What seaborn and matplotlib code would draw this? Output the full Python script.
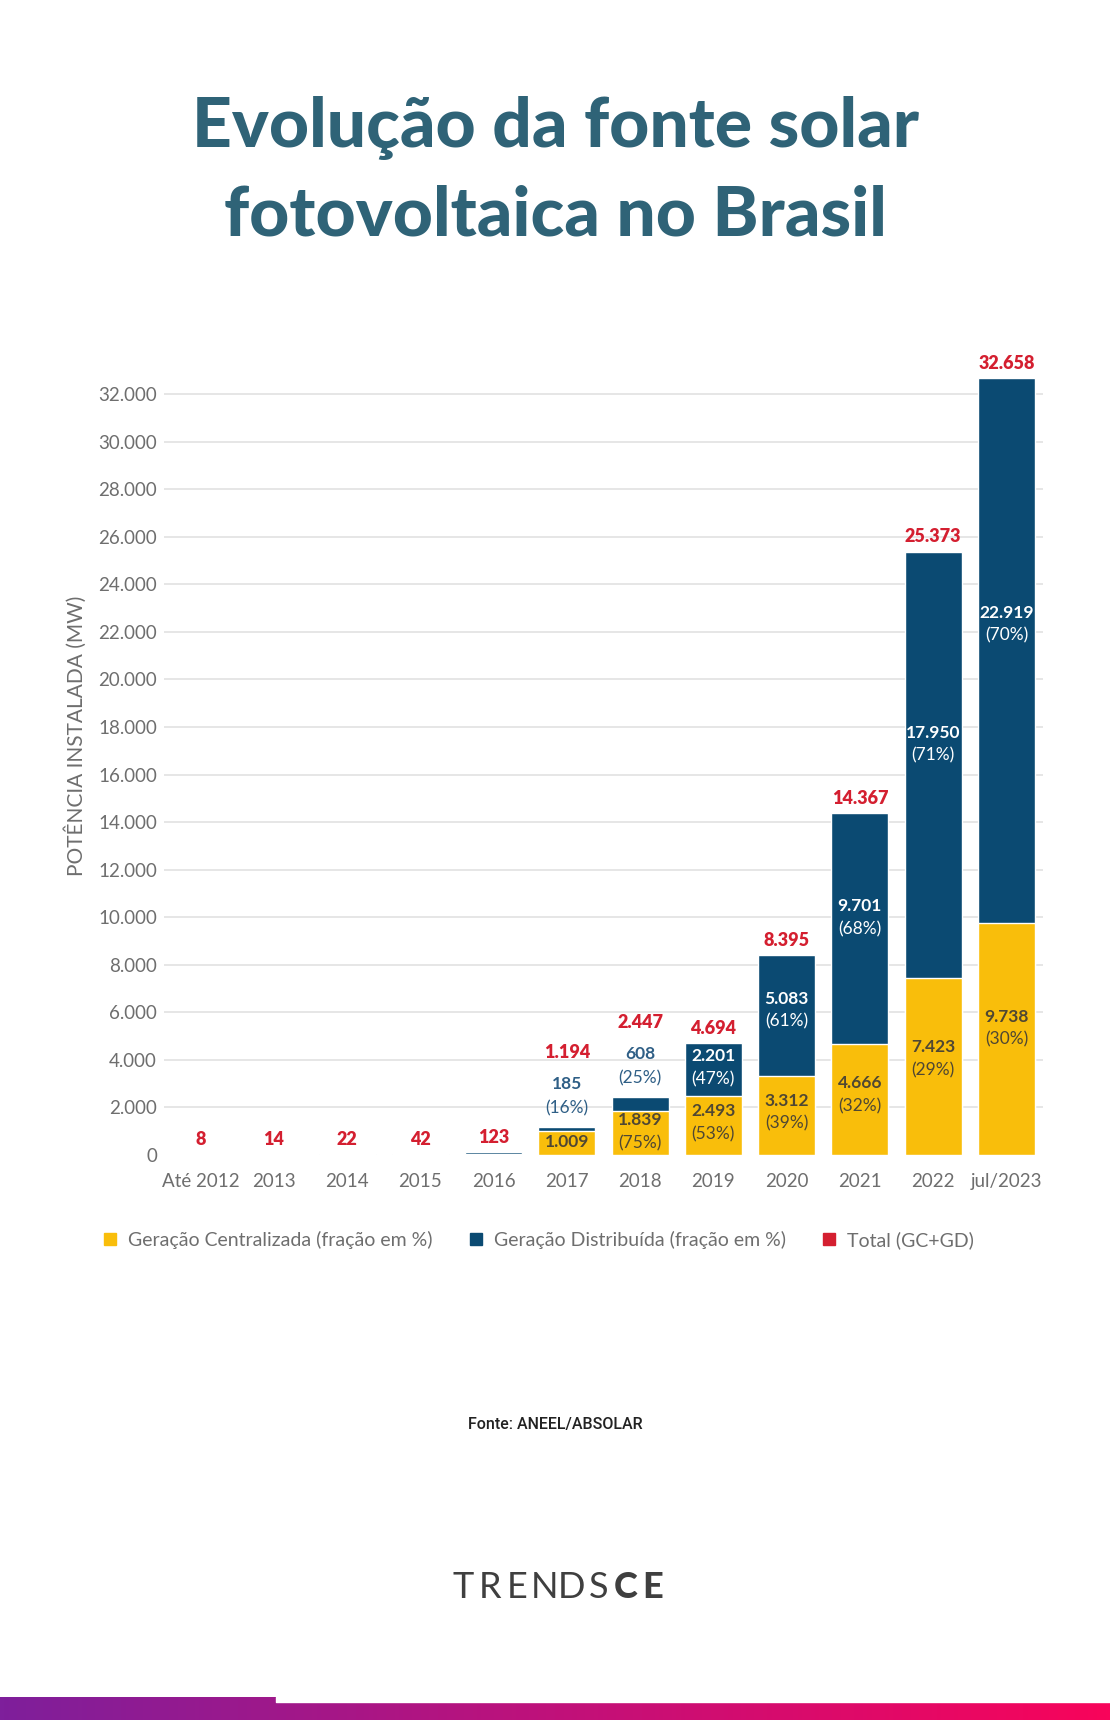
import numpy as np
import matplotlib
matplotlib.use("Agg")
import matplotlib.pyplot as plt
import seaborn as sns
from matplotlib.lines import Line2D
from matplotlib.colors import LinearSegmentedColormap

# data (MW)
years = ["Até 2012", "2013", "2014", "2015", "2016", "2017", "2018",
         "2019", "2020", "2021", "2022", "jul/2023"]
total = [8, 14, 22, 42, 123, 1194, 2447, 4694, 8395, 14367, 25373, 32658]
gc = [6, 9, 15, 21, 24, 1009, 1839, 2493, 3312, 4666, 7423, 9738]
gd = [2, 5, 7, 21, 99, 185, 608, 2201, 5083, 9701, 17950, 22919]
gc_pct = [None, None, None, None, None, None, 75, 53, 39, 32, 29, 30]
gd_pct = [None, None, None, None, None, 16, 25, 47, 61, 68, 71, 70]
gc_label = [False, False, False, False, False, True, True, True, True, True, True, True]
gd_outside = [False, False, False, False, False, True, True, False, False, False, False, False]
yticks = list(range(0, 32001, 2000))

YELLOW = "#F9BE0B"
BLUE = "#0B4A72"
RED = "#D41F30"
GRAY = "#6E6E6E"
TITLE = "#2F6377"

sns.set_theme(style="white")
plt.rcParams["font.family"] = ["Lato", "DejaVu Sans"]

W, H = 1110, 1720
fig = plt.figure(figsize=(W / 100, H / 100), dpi=100)
fig.patch.set_facecolor("white")


def fy(px):
    return 1 - px / H


def fmt(v):
    return f"{v:,}".replace(",", ".")


ax = fig.add_axes([164 / W, fy(1155), (1043 - 164) / W, (1155 - 346.5) / H])

sns.barplot(x=years, y=total, color=BLUE, saturation=1, width=0.78, ax=ax)
sns.barplot(x=years, y=gc, color=YELLOW, saturation=1, width=0.78, ax=ax)

ax.set_xlim(-0.5, len(years) - 0.5)
ax.set_ylim(0, 34000)
ax.set_yticks(yticks)
ax.set_yticklabels([fmt(t) for t in yticks])
ax.tick_params(axis="y", length=0, pad=5, labelsize=13.5, labelcolor=GRAY)
ax.tick_params(axis="x", length=0, pad=13, labelsize=13.5, labelcolor=GRAY)
ax.grid(axis="y", color="#E4E4E4", linewidth=1.3)
ax.set_axisbelow(True)
ax.yaxis.get_gridlines()[0].set_visible(False)
for s in ax.spines.values():
    s.set_visible(False)
ax.set_xlabel("")
ax.set_ylabel("POTÊNCIA INSTALADA (MW)", fontsize=15, color=GRAY)
ax.yaxis.set_label_coords(-0.088, 0.519)

pt = 0.72  # points per pixel at dpi 100
for i in range(len(years)):
    top = total[i]
    if gd_outside[i]:
        ax.annotate(f"({gd_pct[i]}%)", (i, top), xytext=(0, 18 * pt), textcoords="offset points",
                    ha="center", va="center", fontsize=12.5, color="#2F5F86")
        ax.annotate(fmt(gd[i]), (i, top), xytext=(0, 43 * pt), textcoords="offset points",
                    ha="center", va="center", fontsize=12.5, fontweight="bold", color="#2F5F86")
        red_off = 74
    else:
        red_off = 15
    ax.annotate(fmt(top), (i, top), xytext=(0, red_off * pt), textcoords="offset points",
                ha="center", va="center", fontsize=13, fontweight="heavy", color=RED)

    if gd_pct[i] is not None and not gd_outside[i]:
        mid = gc[i] + gd[i] * 0.55
        ax.annotate(fmt(gd[i]), (i, mid), xytext=(0, 11 * pt), textcoords="offset points",
                    ha="center", va="center", fontsize=12.5, fontweight="bold", color="white")
        ax.annotate(f"({gd_pct[i]}%)", (i, mid), xytext=(0, -12 * pt), textcoords="offset points",
                    ha="center", va="center", fontsize=12.5, color="white")

    if gc_label[i]:
        mid = gc[i] * 0.55
        if gc_pct[i] is None:
            ax.annotate(fmt(gc[i]), (i, mid), ha="center", va="center",
                        fontsize=12.5, fontweight="bold", color="#4F4733")
        else:
            ax.annotate(fmt(gc[i]), (i, mid), xytext=(0, 11 * pt), textcoords="offset points",
                        ha="center", va="center", fontsize=12.5, fontweight="bold", color="#4F4733")
            ax.annotate(f"({gc_pct[i]}%)", (i, mid), xytext=(0, -12 * pt), textcoords="offset points",
                        ha="center", va="center", fontsize=12.5, color="#4F4733")

handles = [
    Line2D([], [], marker="s", linestyle="", markersize=8, color=YELLOW),
    Line2D([], [], marker="s", linestyle="", markersize=8, color=BLUE),
    Line2D([], [], marker="s", linestyle="", markersize=8, color=RED),
]
labels = ["Geração Centralizada (fração em %)", "Geração Distribuída (fração em %)", "Total (GC+GD)"]
fig.legend(handles, labels, loc="center left", bbox_to_anchor=(101 / W, fy(1240)), ncol=3,
           frameon=False, fontsize=14, labelcolor=GRAY, handlelength=0.9, handletextpad=0.5,
           columnspacing=1.75, borderpad=0, borderaxespad=0)

# title
fig.text(0.5, fy(128), "Evolução da fonte solar", ha="center", va="center",
         fontsize=50, fontweight="black", color=TITLE)
fig.text(0.5, fy(216), "fotovoltaica no Brasil", ha="center", va="center",
         fontsize=50, fontweight="black", color=TITLE)

fig.text(555 / W, fy(1424), "Fonte: ANEEL/ABSOLAR", ha="center", va="center",
         fontsize=11.5, color="#222222", family=["Roboto", "DejaVu Sans"], fontweight="medium")

# logo
logo = "TRENDSCE"
for k, ch in enumerate(logo):
    fig.text((463.5 + 27 * k) / W, fy(1588), ch, ha="center", va="center", fontsize=26,
             color="#3F3F3F", fontweight="black" if k >= 6 else "normal")

# bottom gradient band
cmap = LinearSegmentedColormap.from_list("band", ["#7E1F9B", "#C0117A", "#F8045A"])
bax = fig.add_axes([0, 0, 1, 23 / H])
bax.imshow(np.linspace(0, 1, 256)[None, :], aspect="auto", cmap=cmap, extent=(0, W, 0, 23))
bax.fill_between([276, W], 18, 23, color="white", zorder=3)
bax.set_xlim(0, W)
bax.set_ylim(0, 23)
bax.axis("off")

fig.savefig("out.png", dpi=100, facecolor="white")
